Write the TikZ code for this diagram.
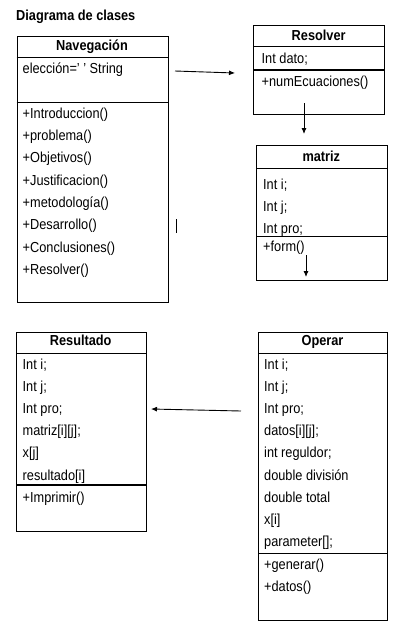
\documentclass[tikz,border=0pt]{standalone}
\usepackage{fontspec}
\setmainfont{Liberation Sans}[FakeStretch=0.88]
\usetikzlibrary{arrows.meta}
\begin{document}
\begin{tikzpicture}[x=1pt,y=-1pt,
  classbox/.style={draw=black, line width=1.1pt, inner sep=0pt, anchor=north west},
  divider/.style={line width=1.1pt},
  member/.style={anchor=base west, inner sep=0pt, font=\fontsize{14.5}{16}\selectfont},
  classname/.style={anchor=base, inner sep=0pt, font=\fontsize{14.5}{16}\selectfont\bfseries},
  link/.style={line width=0.9pt, -{Latex[length=6pt,width=5pt]}}]
\useasboundingbox (0,0) rectangle (404,625);

% heading
\node[anchor=base west, inner sep=0pt, font=\fontsize{14.5}{16}\selectfont\bfseries] (heading) at (16,20) {Diagrama de clases};

% ---- Navegación ----
\node[classbox, minimum width=151pt, minimum height=266pt] (nav) at (16.5,36) {};
\draw[divider] (16.5,57.3) -- (167.5,57.3);
\draw[divider] (16.5,102.7) -- (167.5,102.7);
\node[classname] (navT) at (92,50) {Navegación};
\node[member] (nav1) at (22.5,73) {elección=' ' String};
\foreach \t [count=\i from 0] in {+Introduccion(),+problema(),+Objetivos(),+Justificacion(),+metodología(),+Desarrollo(),+Conclusiones(),+Resolver()}
  \node[member] (navm\i) at (22.5,118.3+22.3*\i) {\t};

% ---- Resolver ----
\node[classbox, minimum width=130.7pt, minimum height=89pt] (res) at (253.3,25) {};
\draw[divider] (253.3,46.7) -- (384,46.7);
\draw[divider] (253.3,70) -- (384,70);
\node[classname] (resT) at (318.7,40.7) {Resolver};
\node[member] (res1) at (261.5,63.3) {Int dato;};
\node[member] (res2) at (261.5,86.7) {+numEcuaciones()};

% ---- matriz ----
\node[classbox, minimum width=130.7pt, minimum height=135pt] (mat) at (256,145) {};
\draw[divider] (256,168.3) -- (386.7,168.3);
\draw[divider] (256,236.7) -- (386.7,236.7);
\node[classname] (matT) at (321.3,161) {matriz};
\node[member] (mat1) at (263,189) {Int i;};
\node[member] (mat2) at (263,211) {Int j;};
\node[member] (mat3) at (263,233) {Int pro;};
\node[member] (mat4) at (263,251) {+form()};

% ---- Resultado ----
\node[classbox, minimum width=129.5pt, minimum height=199pt] (rsl) at (16,331.7) {};
\draw[divider] (16,353.3) -- (145.5,353.3);
\draw[divider] (16,485) -- (145.5,485);
\node[classname] (rslT) at (80.7,345) {Resultado};
\foreach \t [count=\i from 0] in {Int i;,Int j;,Int pro;,matriz[i][j];,x[j],resultado[i]}
  \node[member] (rsl\i) at (22.5,369+22.2*\i) {\t};
\node[member] (rslm) at (22.5,502) {+Imprimir()};

% ---- Operar ----
\node[classbox, minimum width=128.4pt, minimum height=288.3pt] (op) at (258.3,331.7) {};
\draw[divider] (258.3,353.3) -- (386.7,353.3);
\draw[divider] (258.3,553.3) -- (386.7,553.3);
\node[classname] (opT) at (322.5,345) {Operar};
\foreach \t [count=\i from 0] in {Int i;,Int j;,Int pro;,datos[i][j];,int reguldor;,double división,double total,x[i],parameter[];}
  \node[member] (op\i) at (264,369+22.2*\i) {\t};
\node[member] (opm1) at (264,569) {+generar()};
\node[member] (opm2) at (264,591) {+datos()};

% ---- connectors ----
\coordinate (a1) at (175,71);
\coordinate (a2) at (235,73);
\draw[link] (a1) -- (a2);
\coordinate (b1) at (304,103);
\coordinate (b2) at (304,134);
\draw[link] (b1) -- (b2);
\coordinate (c1) at (306,255);
\coordinate (c2) at (306,277);
\draw[link] (c1) -- (c2);
\coordinate (d1) at (176,219);
\coordinate (d2) at (176,233);
\draw[line width=0.9pt] (d1) -- (d2);
\coordinate (e1) at (241,411);
\coordinate (e2) at (151,409);
\draw[link] (e1) -- (e2);
\end{tikzpicture}
\end{document}
